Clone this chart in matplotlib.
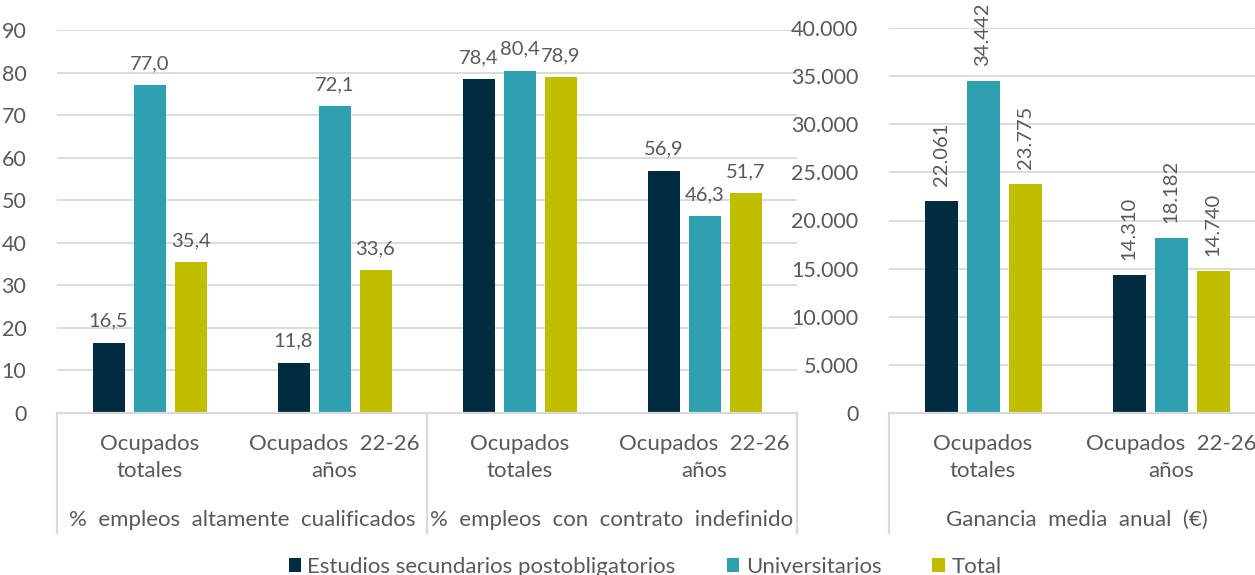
import matplotlib.pyplot as plt
from matplotlib.patches import Patch
import numpy as np

plt.rcParams['font.family'] = ['Lato', 'DejaVu Sans']

# Datos
series = ['Estudios secundarios postobligatorios', 'Universitarios', 'Total']
colors = ['#002B40', '#2FA0AF', '#BFBF00']

cat_left = ['Ocupados\ntotales', 'Ocupados  22-26\naños',
            'Ocupados\ntotales', 'Ocupados  22-26\naños']
groups_left = ['%  empleos  altamente  cualificados', '%  empleos  con  contrato  indefinido']
secundarios_left = [16.5, 11.8, 78.4, 56.9]
universitarios_left = [77.0, 72.1, 80.4, 46.3]
total_left = [35.4, 33.6, 78.9, 51.7]

cat_right = ['Ocupados\ntotales', 'Ocupados  22-26\naños']
group_right = 'Ganancia  media  anual  (€)'
secundarios_right = [22061, 14310]
universitarios_right = [34442, 18182]
total_right = [23775, 14740]

text_col = '#595959'
grid_col = '#D9D9D9'
W, H = 1255, 575

fig = plt.figure(figsize=(W / 100, H / 100), dpi=100)
ax1 = fig.add_axes([57 / W, (H - 413) / H, 740 / W, 383 / H])
ax2 = fig.add_axes([889 / W, (H - 413) / H, 376 / W, 385 / H])


def fmt_dec(v):
    return f'{v:.1f}'.replace('.', ',')


def fmt_thou(v):
    return f'{v:,.0f}'.replace(',', '.')


def style(ax, ylim, ticks, fmt):
    ax.set_ylim(*ylim)
    ax.set_yticks(ticks)
    ax.set_yticklabels([fmt(t) for t in ticks], color=text_col, fontsize=15.5)
    ax.tick_params(axis='y', length=0, pad=22)
    ax.tick_params(axis='x', length=0, labelbottom=False)
    for s in ['top', 'right', 'left']:
        ax.spines[s].set_visible(False)
    ax.spines['bottom'].set_color(grid_col)
    ax.spines['bottom'].set_linewidth(1.6)
    for t in ticks[1:]:
        ax.axhline(t, color=grid_col, lw=1.3, zorder=0)


def draw(ax, data, cats, width, offset, rotate, fmt, ax_h):
    x = np.arange(len(cats))
    for i, vals in enumerate(data):
        bars = ax.bar(x + (i - 1) * offset, vals, width, color=colors[i], zorder=2)
        for b, v in zip(bars, vals):
            if rotate:
                ax.annotate(fmt(v), (b.get_x() + b.get_width() / 2, v),
                            xytext=(0, 15), textcoords='offset pixels',
                            ha='center', va='bottom', rotation=90,
                            fontsize=14.5, color=text_col)
            else:
                ax.annotate(fmt(v), (b.get_x() + b.get_width() / 2, v),
                            xytext=(0, 13), textcoords='offset pixels',
                            ha='center', va='bottom', fontsize=14.5, color=text_col)
    tr = ax.get_xaxis_transform()
    for xi, c in zip(x, cats):
        ax.text(xi, -21 / ax_h, c, transform=tr, ha='center', va='top',
                fontsize=16, color=text_col, linespacing=1.42)


style(ax1, (0, 90), list(range(0, 91, 10)), lambda t: str(t))
ax1.set_xlim(-0.5, 3.5)
draw(ax1, [secundarios_left, universitarios_left, total_left], cat_left,
     32 / 185, 41 / 185, False, fmt_dec, 383)

style(ax2, (0, 40000), list(range(0, 40001, 5000)), fmt_thou)
ax2.set_xlim(-0.5, 1.5)
draw(ax2, [secundarios_right, universitarios_right, total_right], cat_right,
     33 / 188, 42 / 188, True, fmt_thou, 385)

# etiquetas de grupo y separadores
tr1 = ax1.get_xaxis_transform()
for gx, g in zip([0.5, 2.5], groups_left):
    ax1.text(gx, -107 / 383, g, transform=tr1, ha='center', va='center',
             fontsize=16, color=text_col)
for sx in [-0.5, 1.5, 3.5]:
    ax1.plot([sx, sx], [0, -120 / 383], transform=tr1, color=grid_col,
             lw=1.6, clip_on=False)

tr2 = ax2.get_xaxis_transform()
ax2.text(0.5, -107 / 385, group_right, transform=tr2, ha='center', va='center',
         fontsize=16, color=text_col)
ax2.plot([-0.5, -0.5], [0, -120 / 385], transform=tr2, color=grid_col,
         lw=1.6, clip_on=False)

handles = [Patch(facecolor=c, label=s) for c, s in zip(colors, series)]
fig.legend(handles=handles, loc='center', bbox_to_anchor=(645 / W, 8 / H),
           ncol=3, frameon=False, fontsize=16, handlelength=0.55,
           handleheight=0.55, handletextpad=0.3, columnspacing=2.3,
           labelcolor=text_col)

fig.savefig('out.png', dpi=100)
